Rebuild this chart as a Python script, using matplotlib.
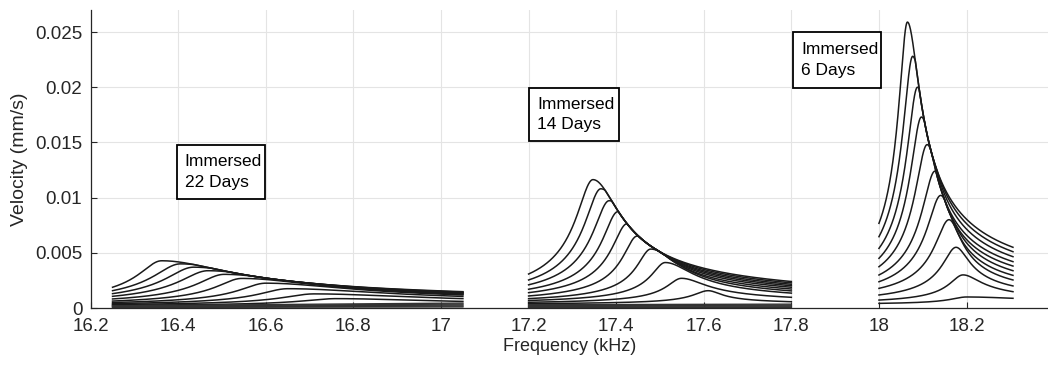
import numpy as np
import matplotlib
matplotlib.use("Agg")
import matplotlib.pyplot as plt
from matplotlib.patches import Rectangle

plt.rcParams["font.family"] = ["Liberation Sans", "DejaVu Sans"]

# ── sweep ranges (kHz) ─────────────────────────────────────────────────────
SPAN_22 = (16.25, 17.05)
SPAN_14 = (17.20, 17.80)
SPAN_6 = (18.00, 18.306)

# ── immersed 22 days: peak freq, peak velocity, value at sweep start / end ─
PEAK_F_22 = [16.362, 16.405, 16.435, 16.468, 16.505, 16.545, 16.600, 16.650, 16.710, 16.760]
PEAK_V_22 = [0.00428, 0.00400, 0.00370, 0.00338, 0.00305, 0.00268, 0.00225, 0.00175, 0.00128, 0.00085]
START_V_22 = [0.00188, 0.00157, 0.00130, 0.00106, 0.00082, 0.00063, 0.00050, 0.00040, 0.00032, 0.00025]
END_V_22 = [0.00148, 0.00144, 0.00140, 0.00136, 0.00131, 0.00125, 0.00118, 0.00105, 0.00085, 0.00060]
FLAT_START_22 = [0.00020, 0.00016, 0.00012, 0.00008, 0.00005]
FLAT_END_22 = [0.00045, 0.00036, 0.00027, 0.00018, 0.00010]

# ── immersed 14 days ───────────────────────────────────────────────────────
PEAK_F_14 = [17.347, 17.365, 17.384, 17.404, 17.425, 17.448, 17.479, 17.512, 17.549, 17.610]
PEAK_V_14 = [0.01163, 0.01080, 0.00972, 0.00873, 0.00764, 0.00652, 0.00534, 0.00412, 0.00269, 0.00157]
START_V_14 = [0.00308, 0.00254, 0.00210, 0.00170, 0.00139, 0.00109, 0.00085, 0.00068, 0.00052, 0.00040]
END_V_14 = [0.00240, 0.00228, 0.00215, 0.00202, 0.00188, 0.00172, 0.00155, 0.00135, 0.00097, 0.00057]
FLAT_START_14 = [0.00030, 0.00022, 0.00015, 0.00009, 0.00004]
FLAT_END_14 = [0.00035, 0.00026, 0.00018, 0.00010, 0.00005]

# ── immersed 6 days ────────────────────────────────────────────────────────
PEAK_F_6 = [18.065, 18.077, 18.088, 18.097, 18.110, 18.128, 18.141, 18.160, 18.176, 18.192, 18.200]
PEAK_V_6 = [0.0259, 0.0228, 0.0200, 0.0173, 0.0148, 0.0124, 0.0102, 0.0080, 0.0055, 0.0030, 0.0010]
START_V_6 = [0.00767, 0.00646, 0.00540, 0.00450, 0.00374, 0.00299, 0.00238, 0.00178, 0.00118, 0.00072, 0.00042]
END_V_6 = [0.00550, 0.00510, 0.00465, 0.00420, 0.00380, 0.00338, 0.00296, 0.00254, 0.00200, 0.00148, 0.00088]

# floor under each group's resonances, and how heavy the tail above resonance is
BASE_22, BASE_14, BASE_6 = 0.00015, 0.0003, 0.0003
TAIL_22, TAIL_14, TAIL_6 = 0.35, 0.40, 0.35

BOX_TEXT = ["Immersed\n22 Days", "Immersed\n14 Days", "Immersed\n6 Days"]
BOX_X = [(16.397, 16.598), (17.202, 17.406), (17.804, 18.004)]
BOX_Y = [(0.00987, 0.01476), (0.01515, 0.01996), (0.01990, 0.02503)]

X_TICKS = [16.2, 16.4, 16.6, 16.8, 17.0, 17.2, 17.4, 17.6, 17.8, 18.0, 18.2]
X_LABELS = ["16.2", "16.4", "16.6", "16.8", "17", "17.2", "17.4", "17.6", "17.8", "18", "18.2"]
Y_TICKS = [0, 0.005, 0.01, 0.015, 0.02, 0.025]
Y_LABELS = ["0", "0.005", "0.01", "0.015", "0.02", "0.025"]

INK = "#1a1a1a"


def sweep(f, fp, amp, v0, v1, base, tail):
    """Skewed resonance: lorentzian below fp, heavier tail above, pinned to the end values."""
    rl = (v0 - base) / (amp - base)
    rr = (v1 - base) / (amp - base)
    wl = (fp - f[0]) / np.sqrt(rl ** -2 - 1)
    wr = (f[-1] - fp) / np.sqrt(rr ** (-1 / tail) - 1)
    d = f - fp
    shape = np.where(d < 0,
                     (1 + (d / wl) ** 2) ** -0.5,
                     (1 + (d / wr) ** 2) ** -tail)
    return base + (amp - base) * shape


def draw_group(ax, span, pf, pv, sv, ev, base, tail, flat_s=(), flat_e=()):
    f = np.linspace(span[0], span[1], 800)
    above = None
    for fp, amp, v0, v1 in zip(pf, pv, sv, ev):
        v = sweep(f, fp, amp, v0, v1, base, tail)
        if above is not None:
            # a weaker sweep never rises over the stronger one: they merge on the envelope
            v = np.minimum(v, above)
        ax.plot(f, v, color=INK, lw=1.1)
        above = v
    for a, b in zip(flat_s, flat_e):
        ax.plot(span, [a, b], color="#333333", lw=1.0)


fig = plt.figure(figsize=(10.48, 3.68), dpi=100)
ax = fig.add_axes([0.0865, 0.163, 0.9135, 0.810])

draw_group(ax, SPAN_22, PEAK_F_22, PEAK_V_22, START_V_22, END_V_22, BASE_22, TAIL_22,
           FLAT_START_22, FLAT_END_22)
draw_group(ax, SPAN_14, PEAK_F_14, PEAK_V_14, START_V_14, END_V_14, BASE_14, TAIL_14,
           FLAT_START_14, FLAT_END_14)
draw_group(ax, SPAN_6, PEAK_F_6, PEAK_V_6, START_V_6, END_V_6, BASE_6, TAIL_6)

for txt, (x0, x1), (y0, y1) in zip(BOX_TEXT, BOX_X, BOX_Y):
    ax.add_patch(Rectangle((x0, y0), x1 - x0, y1 - y0, fill=True, facecolor="white",
                           edgecolor="black", lw=1.3, zorder=5))
    ax.text(x0 + 0.018, (y0 + y1) / 2, txt, fontsize=12.5, va="center", ha="left",
            linespacing=1.45, color="black", zorder=6)

ax.set_xlim(16.2, 18.386)
ax.set_ylim(0, 0.027)
ax.set_xticks(X_TICKS)
ax.set_xticklabels(X_LABELS)
ax.set_yticks(Y_TICKS)
ax.set_yticklabels(Y_LABELS)
ax.grid(True, color="#e4e4e4", lw=0.8)
ax.set_axisbelow(True)
ax.tick_params(direction="in", length=4, width=0.8, colors="#262626", labelsize=13.5)
ax.tick_params(axis="x", pad=7)
ax.tick_params(axis="y", pad=6)
for side in ("top", "right"):
    ax.spines[side].set_visible(False)
for side in ("left", "bottom"):
    ax.spines[side].set_color("#262626")
    ax.spines[side].set_linewidth(0.9)

ax.set_xlabel("Frequency (kHz)", fontsize=13, color="#262626", labelpad=2)
ax.set_ylabel("Velocity (mm/s)", fontsize=14, color="#262626", labelpad=5)

fig.savefig("out.png", dpi=100)
